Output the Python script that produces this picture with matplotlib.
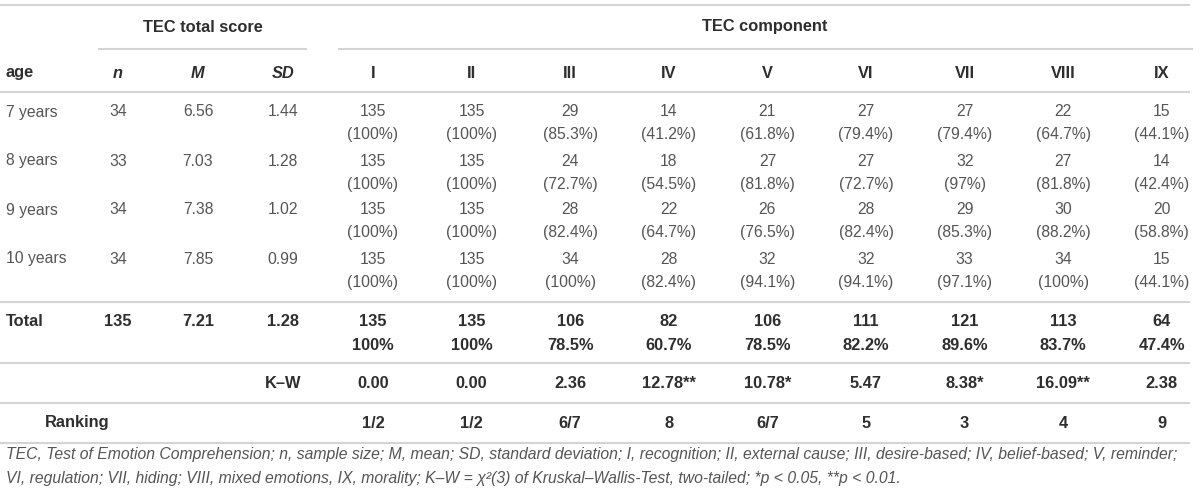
import matplotlib
matplotlib.use('Agg')
from matplotlib import pyplot as plt

# table contents
ages = ["7 years", "8 years", "9 years", "10 years"]
n_vals = ["34", "33", "34", "34"]
m_vals = ["6.56", "7.03", "7.38", "7.85"]
sd_vals = ["1.44", "1.28", "1.02", "0.99"]
components = ["I", "II", "III", "IV", "V", "VI", "VII", "VIII", "IX"]
counts = [
    [135, 135, 29, 14, 21, 27, 27, 22, 15],
    [135, 135, 24, 18, 27, 27, 32, 27, 14],
    [135, 135, 28, 22, 26, 28, 29, 30, 20],
    [135, 135, 34, 28, 32, 32, 33, 34, 15],
]
percents = [
    ["100%", "100%", "85.3%", "41.2%", "61.8%", "79.4%", "79.4%", "64.7%", "44.1%"],
    ["100%", "100%", "72.7%", "54.5%", "81.8%", "72.7%", "97%", "81.8%", "42.4%"],
    ["100%", "100%", "82.4%", "64.7%", "76.5%", "82.4%", "85.3%", "88.2%", "58.8%"],
    ["100%", "100%", "100%", "82.4%", "94.1%", "94.1%", "97.1%", "100%", "44.1%"],
]
total_n, total_m, total_sd = "135", "7.21", "1.28"
total_counts = [135, 135, 106, 82, 106, 111, 121, 113, 64]
total_pcts = ["100%", "100%", "78.5%", "60.7%", "78.5%", "82.2%", "89.6%", "83.7%", "47.4%"]
kw_vals = ["0.00", "0.00", "2.36", "12.78**", "10.78*", "5.47", "8.38*", "16.09**", "2.38"]
ranking = ["1/2", "1/2", "6/7", "8", "6/7", "5", "3", "4", "9"]
footnote = [
    "TEC, Test of Emotion Comprehension; n, sample size; M, mean; SD, standard deviation; "
    "I, recognition; II, external cause; III, desire-based; IV, belief-based; V, reminder;",
    "VI, regulation; VII, hiding; VIII, mixed emotions, IX, morality; K\u2013W = \u03c7\u00b2(3) "
    "of Kruskal\u2013Wallis-Test, two-tailed; *p < 0.05, **p < 0.01.",
]

plt.rcParams['font.family'] = ['Liberation Sans', 'DejaVu Sans']

fig = plt.figure(figsize=(12, 4.95), dpi=100)
ax = fig.add_axes([0, 0, 1, 1])
ax.set_xlim(0, 1200)
ax.set_ylim(495, 0)
ax.axis('off')

FS = 11.3
FS_BOLD = 11.8
NORMAL = '#555555'
BOLD = '#2e2e2e'
LINE = '#d4d4d4'

x_n, x_m, x_sd = 118, 198, 283
x_comp = [373 + 98.6 * i for i in range(len(components))]


def txt(x, y, s, bold=False, ha='center', style='normal'):
    ax.text(x, y, s, ha=ha, va='center', fontsize=FS_BOLD if bold else FS,
            fontweight='bold' if bold else 'normal', fontstyle=style,
            color=BOLD if bold else NORMAL)


def hline(y, x0=0, x1=1190):
    ax.plot([x0, x1], [y, y], color=LINE, lw=1.5, solid_capstyle='butt')


# rules
hline(5)
hline(49, 98, 307)
hline(49, 338, 1193)
hline(92)
hline(302)
hline(363)
hline(403)
hline(443)

# group headers
txt(203, 27, "TEC total score", bold=True)
txt(765, 27, "TEC component", bold=True)

# column header row
txt(6, 73, "age", bold=True, ha='left')
txt(x_n, 73, "n", bold=True, style='italic')
txt(x_m, 73, "M", bold=True, style='italic')
txt(x_sd, 73, "SD", bold=True, style='italic')
for x, c in zip(x_comp, components):
    txt(x, 73, c, bold=True)

# age rows
row_y = [112, 161, 210, 259]
for y, age, nv, mv, sv, cnt, pct in zip(row_y, ages, n_vals, m_vals, sd_vals, counts, percents):
    txt(6, y, age, ha='left')
    txt(x_n, y, nv)
    txt(x_m, y, mv)
    txt(x_sd, y, sv)
    for x, c, p in zip(x_comp, cnt, pct):
        txt(x, y, str(c))
        txt(x, y + 23, "(" + p + ")")

# total row
txt(6, 322, "Total", bold=True, ha='left')
txt(x_n, 322, total_n, bold=True)
txt(x_m, 322, total_m, bold=True)
txt(x_sd, 322, total_sd, bold=True)
for x, c, p in zip(x_comp, total_counts, total_pcts):
    txt(x, 322, str(c), bold=True)
    txt(x, 345, p, bold=True)

# Kruskal-Wallis row
txt(x_sd, 384, "K\u2013W", bold=True)
for x, k in zip(x_comp, kw_vals):
    txt(x, 384, k, bold=True)

# ranking row
txt(45, 423, "Ranking", bold=True, ha='left')
for x, r in zip(x_comp, ranking):
    txt(x, 423, r, bold=True)

# footnote
for y, line in zip([455, 479], footnote):
    ax.text(6, y, line, ha='left', va='center', fontsize=11.3,
            fontstyle='italic', color=NORMAL)

fig.savefig('out.png', dpi=100)
